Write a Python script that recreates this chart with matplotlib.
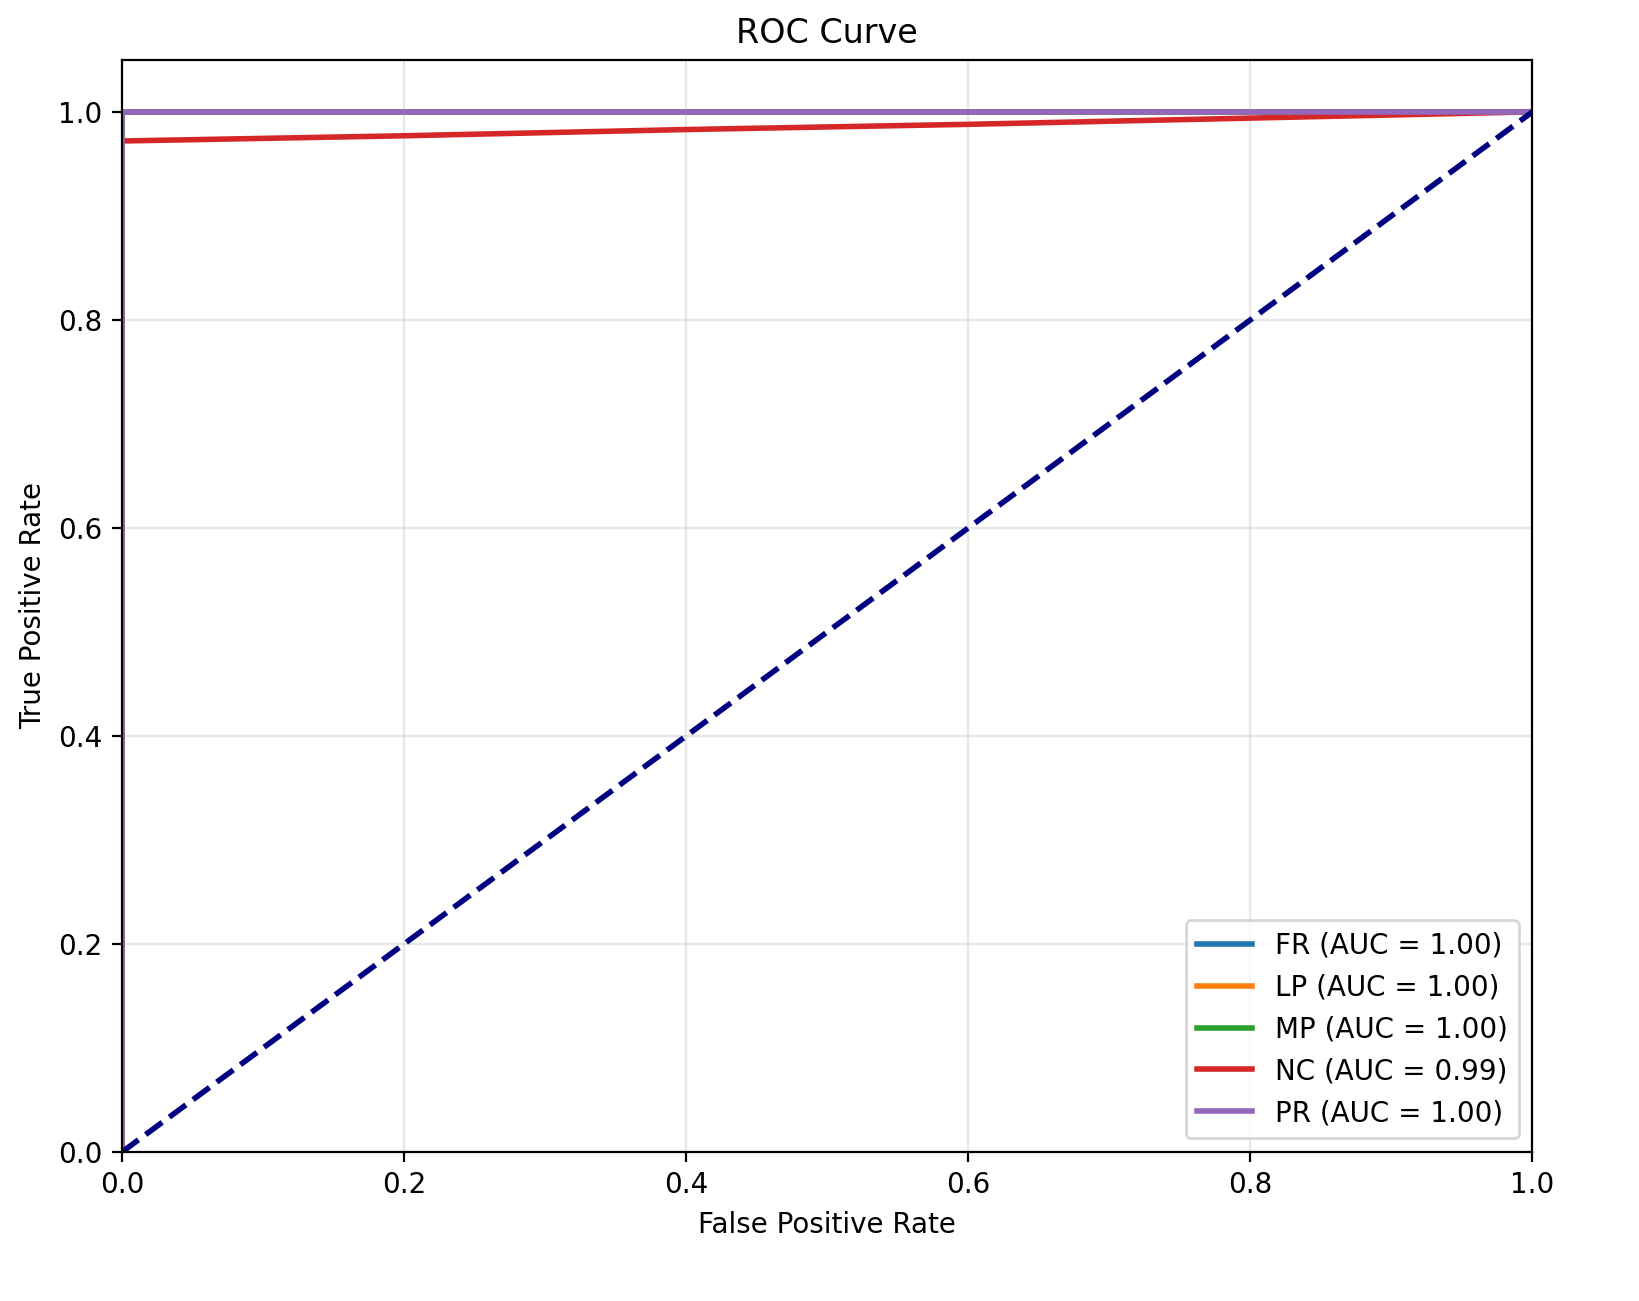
import matplotlib
matplotlib.use("Agg")
import matplotlib.pyplot as plt

# ROC points per class
classes = ["FR", "LP", "MP", "NC", "PR"]
auc_values = [1.00, 1.00, 1.00, 0.99, 1.00]
fpr_perfect = [0.0, 0.0, 1.0]
tpr_perfect = [0.0, 1.0, 1.0]
fpr_nc = [0.0, 0.0, 0.2, 0.4, 0.6, 0.8, 1.0]
tpr_nc = [0.0, 0.972, 0.977, 0.983, 0.988, 0.994, 1.0]

colors = ["tab:blue", "tab:orange", "tab:green", "tab:red", "tab:purple"]

fig = plt.figure(figsize=(8.195, 6.505), dpi=200)
ax = fig.add_axes([0.0744, 0.1145, 0.8606, 0.8395])

for name, auc, color in zip(classes, auc_values, colors):
    if name == "NC":
        fpr, tpr = fpr_nc, tpr_nc
    else:
        fpr, tpr = fpr_perfect, tpr_perfect
    ax.plot(fpr, tpr, color=color, lw=2, label=f"{name} (AUC = {auc:.2f})")

ax.plot([0, 1], [0, 1], color="navy", lw=2, linestyle="--")

ax.set_xlim(0.0, 1.0)
ax.set_ylim(0.0, 1.05)
ax.set_xlabel("False Positive Rate")
ax.set_ylabel("True Positive Rate")
ax.set_title("ROC Curve")
ax.legend(loc="lower right")
ax.grid(True, alpha=0.3)

fig.savefig("out.png", dpi=200)
